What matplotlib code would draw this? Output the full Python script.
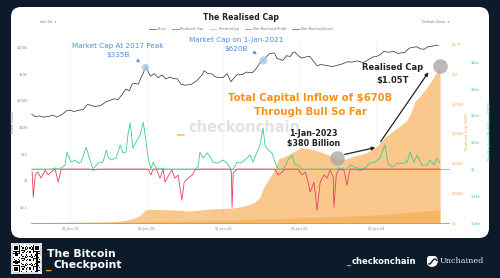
import numpy as np
import matplotlib
matplotlib.use("Agg")
import matplotlib.pyplot as plt
from matplotlib.patches import FancyBboxPatch, FancyArrowPatch, Circle
from matplotlib.lines import Line2D
from matplotlib.ticker import NullLocator

W, H = 500, 278
NAVY = "#0c1a2a"
ORANGE = "#f7931a"
GREEN = "#3dcb8c"
RED = "#e5405e"
BLUE = "#4d8fdc"

# ---- data ----
x_ticks = [2016, 2018, 2020, 2022, 2024]
x_labels = ["01-Jan-16", "01-Jan-18", "01-Jan-20", "01-Jan-22", "01-Jan-24"]

price_year = [2015.0, 2015.1, 2015.2, 2015.3, 2015.45, 2015.55, 2015.65, 2015.8, 2015.9,
              2016.0, 2016.1, 2016.2, 2016.35, 2016.45, 2016.55, 2016.65, 2016.8, 2016.95,
              2017.05, 2017.15, 2017.25, 2017.35, 2017.45, 2017.55, 2017.62, 2017.7, 2017.78, 2017.85, 2017.92, 2017.97,
              2018.05, 2018.1, 2018.2, 2018.3, 2018.4, 2018.5, 2018.6, 2018.7, 2018.8, 2018.9,
              2019.0, 2019.15, 2019.3, 2019.45, 2019.5, 2019.6, 2019.7, 2019.8, 2019.9,
              2020.0, 2020.1, 2020.2, 2020.35, 2020.5, 2020.6, 2020.75, 2020.85, 2020.95,
              2021.0, 2021.1, 2021.2, 2021.3, 2021.35, 2021.4, 2021.5, 2021.55, 2021.65, 2021.75, 2021.82, 2021.87, 2021.95,
              2022.05, 2022.15, 2022.25, 2022.35, 2022.45, 2022.55, 2022.7, 2022.85,
              2023.0, 2023.1, 2023.25, 2023.35, 2023.5, 2023.65, 2023.8, 2023.9,
              2024.0, 2024.1, 2024.2, 2024.3, 2024.45, 2024.55, 2024.65, 2024.75, 2024.85, 2024.95,
              2025.05, 2025.15, 2025.25, 2025.35, 2025.45, 2025.55, 2025.62]
price_usd = [300, 240, 260, 235, 250, 280, 235, 300, 400,
             430, 380, 420, 450, 700, 650, 580, 640, 900,
             1000, 1150, 1050, 1600, 2600, 2300, 4100, 4300, 4000, 7000, 11000, 19000,
             11000, 8000, 10000, 7000, 9000, 6300, 7500, 6500, 6400, 4000,
             3700, 3900, 5300, 9000, 13000, 10000, 9800, 7500, 7200,
             7200, 10000, 5000, 9000, 9200, 11500, 10800, 15000, 24000,
             29000, 40000, 55000, 60000, 55000, 37000, 34000, 31000, 47000, 44000, 62000, 65000, 48000,
             38000, 42000, 45000, 30000, 20000, 22000, 20000, 18500,
             21000, 23000, 28000, 27000, 30000, 26000, 34000, 42000,
             44000, 52000, 70000, 63000, 68000, 57000, 60000, 63000, 90000, 97000,
             102000, 85000, 82000, 104000, 106000, 117000, 115000]
price_ticks = [0.1, 1, 10, 100, 1000, 1e4, 1e5]
price_tick_labels = ["$0.1", "$1", "$10", "$100", "$1000", "$10k", "$100k"]

# realised cap, $B
rc_year = [2015.0, 2015.5, 2016.0, 2016.5, 2017.0, 2017.3, 2017.5, 2017.7, 2017.85, 2017.95,
           2018.1, 2018.3, 2018.6, 2018.9, 2019.1, 2019.5, 2019.8,
           2020.2, 2020.5, 2020.8, 2020.95, 2021.05, 2021.15, 2021.3, 2021.45, 2021.6, 2021.85,
           2022.05, 2022.3, 2022.6, 2022.9, 2023.1, 2023.35, 2023.6, 2023.8,
           2024.05, 2024.2, 2024.3, 2024.5, 2024.65, 2024.8, 2024.9, 2025.0, 2025.2, 2025.37, 2025.5, 2025.66]
rc_bn = [3, 4, 5, 6, 8, 12, 20, 35, 55, 85,
         92, 90, 88, 85, 80, 90, 95,
         100, 110, 135, 170, 235, 280, 340, 430, 445, 480,
         505, 495, 470, 440, 420, 444, 460, 477,
         523, 570, 590, 630, 658, 690, 740, 812, 870, 926, 980, 1050]
rc_ticks = [0, 200, 400, 600, 800, 1000, 1200]
rc_tick_labels = ["$0", "$200B", "$400B", "$600B", "$800B", "$1T", "$1.2T"]

# thermocap, $B
thermo_year = [2015.0, 2016.0, 2017.0, 2018.0, 2019.0, 2020.0, 2021.0, 2022.0, 2023.0, 2024.0, 2025.0, 2025.66]
thermo_bn = [1, 2, 3, 7, 12, 18, 26, 36, 44, 55, 75, 87]

# net realised profit/loss, $bn
nrpl_year = [2015.01, 2015.04, 2015.09, 2015.16, 2015.24, 2015.35, 2015.43, 2015.50, 2015.61, 2015.69, 2015.77, 2015.87, 2015.92, 2015.95,
             2016.03, 2016.13, 2016.21, 2016.29, 2016.42, 2016.52, 2016.60, 2016.73, 2016.86, 2016.95, 2016.99,
             2017.07, 2017.20, 2017.31, 2017.38, 2017.46, 2017.52, 2017.57, 2017.64, 2017.72, 2017.83, 2017.91, 2017.96,
             2018.04, 2018.11, 2018.17, 2018.25, 2018.35, 2018.43, 2018.48, 2018.58, 2018.66, 2018.74, 2018.82, 2018.92, 2018.98,
             2019.08, 2019.19, 2019.26, 2019.34, 2019.39, 2019.47, 2019.58, 2019.66, 2019.73, 2019.86, 2019.99,
             2020.10, 2020.18, 2020.21, 2020.23, 2020.26, 2020.36, 2020.44, 2020.57, 2020.70, 2020.78, 2020.88, 2020.96,
             2021.04, 2021.09, 2021.17, 2021.27, 2021.35, 2021.43, 2021.54, 2021.61, 2021.69, 2021.80, 2021.87, 2021.95,
             2022.06, 2022.14, 2022.19, 2022.27, 2022.37, 2022.45, 2022.53, 2022.63, 2022.71, 2022.79, 2022.87, 2022.89, 2022.95,
             2023.02, 2023.15, 2023.23, 2023.31, 2023.44, 2023.57, 2023.70, 2023.83, 2023.96,
             2024.09, 2024.22, 2024.30, 2024.41, 2024.54, 2024.67, 2024.80, 2024.88, 2024.98,
             2025.06, 2025.19, 2025.32, 2025.40, 2025.50, 2025.58, 2025.66]
nrpl_bn = [-0.1, -1.05, -0.22, -0.11, -0.34, -0.04, -0.22, -0.11, 0.04, -0.49, 0.04, 0.15, 0.63, 0.52,
           0.26, 0.34, 0.22, 0.26, 0.82, 0.34, -0.04, 0.22, 0.26, 0.71, 0.45,
           0.34, 0.41, 0.90, 0.60, 0.63, 1.38, 1.72, 0.78, 1.0, 1.27, 1.75, 1.27,
           0.41, -0.22, 0.26, 0.04, -0.34, 0.04, -0.49, -0.22, -0.04, -0.34, -0.22, -1.16, -0.49,
           -0.34, -0.22, -0.04, 0.07, 0.63, 0.41, 0.60, 0.45, 0.26, 0.22, 0.34,
           0.22, 0.04, -0.1, -1.42, -0.15, 0.26, 0.22, 0.34, 0.52, 0.26, 0.63, 0.90,
           1.53, 0.90, 0.71, 0.60, 0.26, -0.22, -0.11, 0.07, 0.34, 0.52, 0.15, 0.15,
           -0.22, -0.11, -0.34, -0.86, -0.49, -1.53, -0.49, -0.22, -0.34, -0.04, -0.3, -1.42, -0.22,
           0.04, -0.04, -0.6, 0.15, 0.07, -0.04, 0.04, 0.22, 0.26,
           0.41, 0.90, 0.22, 0.07, 0.22, 0.22, 0.26, 0.63, 0.26,
           0.52, 0.15, 0.15, 0.34, 0.15, 0.41, 0.22]
nrpl_ticks = [-2, -1, 0, 1, 2, 3, 4]
nrpl_tick_labels = ["-$2bn", "-$1bn", "$0", "$1bn", "$2bn", "$3bn", "$4bn"]


def fx(x):
    return x / W


def fy(y):
    return 1 - y / H


def ftext(x, y, s, **kw):
    return fig.text(fx(x), fy(y), s, **kw)


def arrow(x0, y0, x1, y1, color, lw=0.9, scale=5):
    fig.add_artist(FancyArrowPatch((fx(x0), fy(y0)), (fx(x1), fy(y1)),
                                   transform=fig.transFigure, arrowstyle="-|>",
                                   mutation_scale=scale, lw=lw, color=color))


fig = plt.figure(figsize=(W / 100, H / 100), dpi=100, facecolor=NAVY)

# white card
card = FancyBboxPatch((fx(11), fy(238)), 478 / W, 231 / H,
                      boxstyle="round,pad=0,rounding_size=0.02", mutation_aspect=W / H,
                      transform=fig.transFigure, fc="white", ec="none", zorder=-10)
fig.patches.append(card)

ax_rc = fig.add_axes([fx(31), fy(224), 419 / W, 186 / H])
ax_rc.set_facecolor("none")
ax_n = ax_rc.twinx()
ax_p = ax_rc.twinx()

# watermark
ax_rc.text(fx(177), fy(132), "_", transform=fig.transFigure, fontsize=10.8,
           fontweight="bold", color="#f9c48c", va="baseline", zorder=0)
ax_rc.text(fx(188), fy(132), "checkonchain", transform=fig.transFigure, fontsize=10.5,
           fontweight="bold", color="#e2e2e2", va="baseline", zorder=0)

# realised cap + thermocap
ax_rc.fill_between(rc_year, 0, rc_bn, color=ORANGE, alpha=0.5, lw=0)
ax_rc.fill_between(thermo_year, 0, thermo_bn, color=ORANGE, alpha=0.35, lw=0)
ax_rc.axhline(0, color="#9a9a9a", lw=0.6)
ax_rc.set_ylim(-7, 1240)
ax_rc.set_xlim(2014.98, 2025.92)

# NRPL
nrpl = np.array(nrpl_bn)
ax_n.axhline(0, color="#9a9a9a", lw=0.5)
ax_n.plot(nrpl_year, np.maximum(nrpl, 0), color=GREEN, lw=0.6)
ax_n.plot(nrpl_year, np.minimum(nrpl, 0), color=RED, lw=0.6)
ax_n.set_ylim(-2.05, 4.89)

# price
ax_p.plot(price_year, price_usd, color="#2b2b2b", lw=0.5)
ax_p.set_yscale("log")
ax_p.set_ylim(0.0231, 2.17e5)
ax_p.yaxis.set_minor_locator(NullLocator())

for a in (ax_rc, ax_n, ax_p):
    for s in a.spines.values():
        s.set_visible(False)

ax_rc.set_axisbelow(True)
ax_rc.grid(axis="x", color="#efefef", lw=0.4)
ax_rc.set_xticks(x_ticks)
ax_rc.set_xticklabels(x_labels)
ax_rc.tick_params(axis="x", length=0, pad=2, labelsize=2.6, labelcolor="#8a8a8a")

ax_rc.yaxis.tick_right()
ax_rc.yaxis.set_label_position("right")
ax_rc.set_yticks(rc_ticks)
ax_rc.set_yticklabels(rc_tick_labels)
ax_rc.tick_params(axis="y", length=0, pad=1.4, labelsize=2.6, labelcolor="#f4aa5c")
ax_rc.set_ylabel("Realised Cap (USD)", fontsize=2.8, color="#f4aa5c")
ax_rc.yaxis.set_label_coords(1.035, 0.5)

ax_n.set_yticks(nrpl_ticks)
ax_n.set_yticklabels(nrpl_tick_labels)
ax_n.tick_params(axis="y", length=0, pad=14.8, labelsize=2.6, labelcolor=GREEN)
ax_n.set_ylabel("Net Realised Profit/Loss (USD)", fontsize=2.8, color=GREEN)
ax_n.yaxis.set_label_coords(1.09, 0.5)

ax_p.yaxis.tick_left()
ax_p.yaxis.set_label_position("left")
ax_p.set_yticks(price_ticks)
ax_p.set_yticklabels(price_tick_labels)
ax_p.tick_params(axis="y", length=0, pad=2.2, labelsize=2.6, labelcolor="#8a8a8a")
ax_p.set_ylabel("Price (USD)", fontsize=2.8, color="#777777")
ax_p.yaxis.set_label_coords(-0.038, 0.55)

# highlight circles
peak_x = 2017.96
ax_p.plot([peak_x], [np.interp(peak_x, price_year, price_usd)], "o", ms=5.4,
          mfc="#a8c7f0", mec="none", alpha=0.8, clip_on=False)
jan21 = 2021.04
ax_p.plot([jan21], [np.interp(jan21, price_year, price_usd)], "o", ms=5.8,
          mfc="#a8c7f0", mec="none", alpha=0.8, clip_on=False)
jan23 = 2022.97
ax_rc.plot([jan23], [np.interp(jan23, rc_year, rc_bn)], "o", ms=10.5,
           mfc="#a9a9a9", mec="none", alpha=0.8, clip_on=False, zorder=5)
ax_rc.plot([rc_year[-1]], [rc_bn[-1]], "o", ms=10.5,
           mfc="#a9a9a9", mec="none", alpha=0.8, clip_on=False, zorder=5)

# titles, legend, controls
ftext(241, 17, "The Realised Cap", ha="center", va="center", fontsize=5.6,
      fontweight="bold", color="#222222")
handles = [Line2D([], [], color="#666666", lw=0.6),
           Line2D([], [], color=ORANGE, lw=0.8),
           Line2D([], [], color="#fbc98c", lw=0.8),
           Line2D([], [], color=GREEN, lw=0.6),
           Line2D([], [], color=RED, lw=0.6)]
labels = ["Price", "Realised Cap", "ThermoCap", "Net Realised Profit", "Net Realised Loss"]
fig.legend(handles, labels, loc="center", bbox_to_anchor=(fx(241), fy(29)), ncol=5,
           fontsize=2.6, frameon=False, handlelength=1.8, handletextpad=0.5,
           columnspacing=1.6, labelcolor="#777777")
ftext(40, 22, "Info On  \u25be", ha="left", va="center", fontsize=2.4, color="#777777")
ftext(422, 22, "Default Zoom  \u25be", ha="left", va="center", fontsize=2.4, color="#777777")

# annotations
ftext(118, 46, "Market Cap At 2017 Peak", ha="center", va="center", fontsize=5.2, color=BLUE)
ftext(118, 55.5, "$335B", ha="center", va="center", fontsize=5.2, color=BLUE)
arrow(135, 58, 142, 64.5, BLUE, lw=0.7, scale=4)

ftext(236, 40, "Market Cap on 1-Jan-2021", ha="center", va="center", fontsize=5.2, color=BLUE)
ftext(236, 49.5, "$620B", ha="center", va="center", fontsize=5.2, color=BLUE)
arrow(251, 50, 259, 56, BLUE, lw=0.7, scale=4)

ftext(310, 98, "Total Capital Inflow of $670B", ha="center", va="center", fontsize=7.3,
      fontweight="bold", color=ORANGE)
ftext(310, 112, "Through Bull So Far", ha="center", va="center", fontsize=7.3,
      fontweight="bold", color=ORANGE)

ftext(313, 133, "1-Jan-2023", ha="center", va="center", fontsize=5.8,
      fontweight="bold", color="#222222")
ftext(314, 143.5, "$380 Billion", ha="center", va="center", fontsize=5.8,
      fontweight="bold", color="#222222")

ftext(393, 68, "Realised Cap", ha="center", va="center", fontsize=6,
      fontweight="bold", color="#222222")
ftext(393, 80, "$1.05T", ha="center", va="center", fontsize=6,
      fontweight="bold", color="#222222")

arrow(342, 155, 378, 147, "#222222", lw=0.9, scale=5)
arrow(379, 144, 430, 70, "#222222", lw=0.9, scale=5)

# footer: qr-like block
ax_qr = fig.add_axes([fx(12), fy(273), 29 / W, 29 / H])
n = 25
i, j = np.indices((n, n))
qr = ((i * 3 + j * 5 + (i * j) % 7) % 3 == 0)
for r0, c0 in [(0, 0), (0, n - 7), (n - 7, 0)]:
    qr[r0:r0 + 7, c0:c0 + 7] = True
    qr[r0 + 1:r0 + 6, c0 + 1:c0 + 6] = False
    qr[r0 + 2:r0 + 5, c0 + 2:c0 + 5] = True
ax_qr.imshow(~qr, cmap="gray", interpolation="nearest", aspect="auto")
ax_qr.set_xticks([])
ax_qr.set_yticks([])
for s in ax_qr.spines.values():
    s.set_color("white")
    s.set_linewidth(1.2)

ftext(47, 257, "The Bitcoin", ha="left", va="baseline", fontsize=7.8,
      fontweight="bold", color="white")
ftext(46, 268.5, "_", ha="left", va="baseline", fontsize=7.8, fontweight="bold", color=ORANGE)
ftext(54, 268.5, "Checkpoint", ha="left", va="baseline", fontsize=7.8,
      fontweight="bold", color="white")

ftext(347, 264.5, "_", ha="left", va="baseline", fontsize=6, fontweight="bold", color=ORANGE)
ftext(352, 264.5, "checkonchain", ha="left", va="baseline", fontsize=6,
      fontweight="bold", color="white")

ax_u = fig.add_axes([fx(426.5), fy(266.5), 11 / W, 11 / H])
ax_u.set_xlim(-1, 1)
ax_u.set_ylim(-1, 1)
ax_u.axis("off")
ax_u.add_patch(Circle((0, 0), 0.95, color="white"))
t = np.linspace(-0.6, 0.9, 30)
ax_u.plot(t, 0.45 * np.sin(3 * t) - 0.1, color=NAVY, lw=1.0)
ftext(440, 261, "Unchained", ha="left", va="center", fontsize=5.8,
      family="DejaVu Serif", color="#e6e6e6")

fig.savefig("out.png", dpi=100, facecolor=NAVY)
